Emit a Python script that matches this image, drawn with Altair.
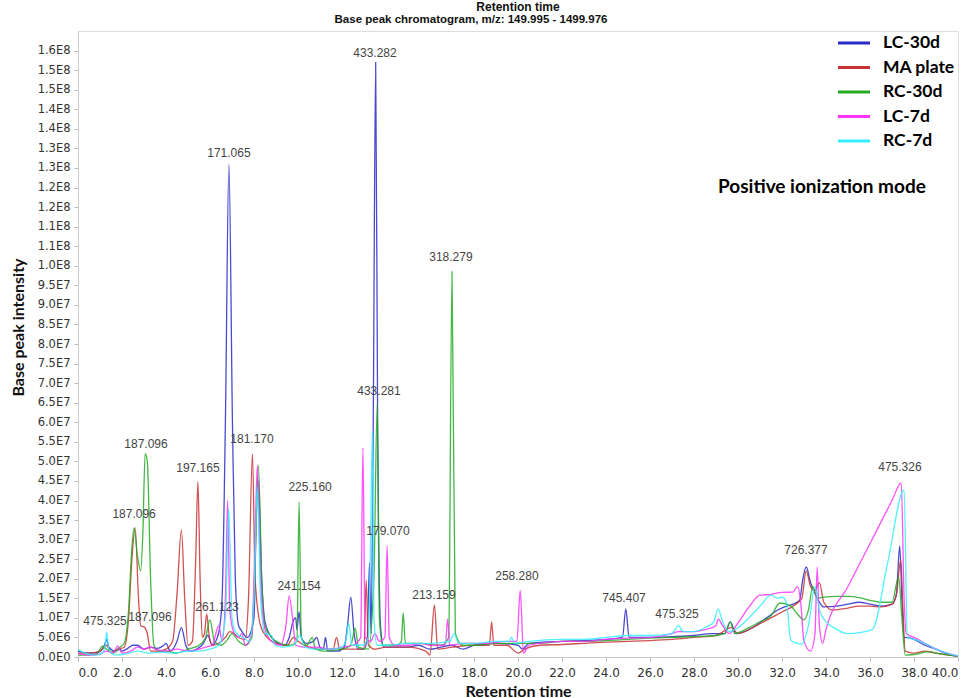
import altair as alt
import pandas as pd

# ---- series names and colours ----
series_names = ["LC-30d", "MA plate", "RC-30d", "LC-7d", "RC-7d"]
series_colors = ["#2a2ac8", "#c83232", "#22aa22", "#ff33ff", "#33eeff"]

# ---- base peak chromatograms: retention time (min) and intensity (x1e7) ----
lc30_t = [0.0, 0.2, 0.5, 0.9, 1.2, 1.3, 1.4, 1.7, 1.9, 2.0, 2.2, 2.5, 2.7, 3.0, 3.3, 3.6, 3.9, 4.0, 4.2,
          4.5, 4.7, 4.9, 5.1, 5.4, 5.7, 5.9, 6.1, 6.3, 6.45, 6.55, 6.7, 6.86, 7.02, 7.15, 7.3, 7.4, 7.7,
          8.0, 8.1, 8.2, 8.35, 8.5, 8.8, 9.1, 9.4, 9.6, 9.8, 9.9, 9.95, 10.05, 10.15, 10.4, 10.7, 10.85,
          11.0, 11.15, 11.25, 11.35, 11.8, 12.1, 12.25, 12.4, 12.55, 12.75, 13.0, 13.15, 13.25, 13.32,
          13.42, 13.53, 13.62, 13.75, 13.9, 14.5, 15.0, 15.5, 16.0, 16.5, 17.0, 17.5, 18.0, 19.0, 20.0,
          20.2, 20.5, 22.0, 23.0, 24.0, 24.75, 24.9, 25.05, 26.0, 27.0, 28.0, 28.8, 29.4, 29.65, 29.9,
          30.3, 30.8, 31.3, 31.8, 32.2, 32.5, 32.8, 32.95, 33.1, 33.3, 33.6, 33.9, 34.5, 35.0, 35.5, 36.0,
          36.5, 37.0, 37.2, 37.35, 37.45, 37.55, 37.8, 38.5, 39.0, 39.5, 40.0]
lc30_v = [0.15, 0.12, 0.1, 0.12, 0.3, 0.45, 0.25, 0.15, 0.2, 0.15, 0.2, 0.3, 0.3, 0.2, 0.25, 0.22, 0.3, 0.35, 0.15,
          0.4, 0.75, 0.3, 0.15, 0.2, 0.35, 0.55, 0.3, 0.45, 0.8, 1.5, 6.0, 12.6, 6.0, 2.0, 0.8, 0.7, 0.5,
          1.0, 3.5, 4.5, 2.0, 0.9, 0.5, 0.35, 0.3, 0.5, 0.95, 1.0, 0.7, 1.15, 0.5, 0.35, 0.4, 0.5,
          0.25, 0.2, 0.5, 0.15, 0.15, 0.25, 0.8, 1.53, 0.6, 0.2, 0.2, 0.5, 2.4, 0.6,
          6.0, 15.2, 6.0, 0.8, 0.25, 0.25, 0.25, 0.3, 0.2, 0.25, 0.3, 0.2, 0.3, 0.35, 0.3,
          0.2, 0.35, 0.4, 0.42, 0.45, 0.5, 1.23, 0.5, 0.5, 0.52, 0.55, 0.6, 0.6, 0.9, 0.6,
          0.65, 0.8, 1.0, 1.2, 1.3, 1.35, 1.45, 2.0, 2.3, 1.9, 1.5, 1.28, 1.3, 1.35, 1.4, 1.35,
          1.3, 1.35, 1.6, 2.84, 1.5, 0.5, 0.49, 0.3, 0.2, 0.08, 0.02]

ma_t = [0.0, 0.5, 1.0, 1.3, 1.5, 1.8, 2.1, 2.3, 2.45, 2.6, 2.75, 2.85, 3.0, 3.15, 3.3, 3.6, 4.0, 4.3, 4.5,
        4.7, 4.85, 5.0, 5.2, 5.35, 5.45, 5.55, 5.65, 5.75, 5.85, 5.95, 6.1, 6.4, 6.7, 6.9, 7.1, 7.3, 7.6,
        7.75, 7.93, 8.05, 8.3, 8.6, 9.0, 9.5, 9.8, 10.0, 10.5, 11.0, 11.6, 11.75, 11.9, 12.5, 13.0,
        13.1, 13.2, 13.5, 14.0, 15.0, 15.8, 16.0, 16.2, 16.35, 17.0, 18.0, 18.7, 18.8, 18.9, 19.5,
        20.0, 20.3, 21.0, 22.0, 23.0, 24.0, 25.0, 26.0, 27.0, 28.0, 29.0, 29.7, 30.0, 30.5, 31.0,
        31.5, 32.0, 32.5, 32.9, 33.1, 33.3, 33.5, 33.7, 33.9, 34.3, 35.0, 35.5, 36.0, 36.5, 37.0,
        37.2, 37.4, 37.5, 37.6, 38.0, 38.5, 39.0, 40.0]
ma_v = [0.1, 0.1, 0.15, 0.3, 0.12, 0.2, 0.25, 1.0, 2.5, 3.3, 1.5, 0.8, 0.77, 0.6, 0.15, 0.15, 0.2, 0.4, 1.6,
        3.25, 1.5, 0.3, 0.4, 2.5, 4.48, 2.0, 0.5, 0.6, 1.1, 0.6, 0.3, 0.35, 0.5, 0.65, 0.6, 0.5, 0.45,
        1.5, 5.2, 2.0, 0.8, 0.5, 0.35, 0.3, 0.5, 0.4, 0.25, 0.2, 0.2, 0.5, 0.2, 0.2, 0.2,
        1.97, 0.3, 0.2, 0.25, 0.25, 0.15, 0.05, 1.33, 0.2, 0.25, 0.3, 0.3, 0.9, 0.3, 0.3,
        0.1, 0.2, 0.3, 0.32, 0.35, 0.38, 0.4, 0.42, 0.45, 0.5, 0.55, 0.75, 0.6, 0.7, 0.85,
        1.0, 1.15, 1.3, 1.5, 2.2, 1.8, 1.7, 1.9, 1.4, 1.2, 1.25, 1.3, 1.3, 1.28, 1.35,
        1.6, 2.48, 1.2, 0.15, 0.1, 0.15, 0.1, 0.02]

rc30_t = [0.0, 0.5, 0.9, 1.1, 1.3, 1.6, 1.9, 2.1, 2.3, 2.45, 2.55, 2.7, 2.85, 2.95, 3.05, 3.15, 3.3, 3.45,
          3.7, 4.0, 4.5, 5.0, 5.5, 5.8, 6.0, 6.2, 6.5, 6.8, 7.0, 7.3, 7.6, 7.9, 8.05, 8.2, 8.35, 8.5,
          8.8, 9.2, 9.6, 9.95, 10.05, 10.15, 10.4, 10.65, 10.8, 11.2, 12.0, 12.4, 12.6, 12.75, 13.2,
          13.45, 13.6, 13.7, 13.85, 14.5, 14.7, 14.78, 14.88, 15.5, 16.5, 16.85, 17.0, 17.15, 17.5,
          18.0, 19.0, 20.0, 21.0, 22.0, 23.0, 24.0, 25.0, 26.0, 27.0, 28.0, 29.0, 29.4, 29.65, 29.85,
          30.5, 31.0, 31.5, 31.9, 32.4, 32.7, 33.0, 33.2, 33.4, 33.6, 33.9, 34.5, 35.0, 35.5, 36.0,
          36.5, 37.0, 37.3, 37.45, 37.6, 38.2, 38.6, 39.2, 40.0]
rc30_v = [0.05, 0.05, 0.1, 0.28, 0.2, 0.1, 0.25, 0.35, 1.2, 2.8, 3.3, 2.6, 2.2, 3.2, 5.2, 5.0, 2.0, 0.3,
          0.15, 0.15, 0.1, 0.2, 0.3, 0.5, 0.95, 0.4, 0.3, 0.45, 0.6, 0.4, 0.3, 0.5, 2.5, 4.9, 2.0, 0.8,
          0.5, 0.35, 0.3, 0.4, 3.96, 0.5, 0.3, 0.5, 0.2, 0.15, 0.2, 0.3, 0.74, 0.25, 0.2,
          2.0, 6.45, 1.0, 0.3, 0.3, 0.4, 1.13, 0.35, 0.35, 0.3, 0.5, 9.85, 0.6, 0.3,
          0.3, 0.35, 0.35, 0.35, 0.4, 0.4, 0.42, 0.45, 0.48, 0.5, 0.52, 0.55, 0.6, 0.9, 0.6,
          0.75, 0.9, 1.05, 1.38, 1.3, 1.1, 0.95, 1.2, 1.8, 1.5, 1.53, 1.55, 1.55, 1.52, 1.45,
          1.4, 1.4, 2.05, 1.0, 0.05, 0.08, 0.13, 0.08, 0.02]

lc7_t = [0.0, 0.5, 1.0, 1.3, 1.6, 1.8, 2.0, 2.4, 2.7, 3.0, 3.3, 3.6, 4.0, 4.5, 5.0, 5.5, 5.8, 6.1, 6.4,
         6.55, 6.7, 6.8, 6.9, 7.1, 7.3, 7.45, 7.6, 7.9, 8.05, 8.15, 8.3, 8.5, 8.8, 9.2, 9.45, 9.6, 9.75,
         9.9, 10.3, 10.8, 11.5, 12.0, 12.5, 12.85, 12.95, 13.05, 13.3, 13.5, 13.7, 13.95, 14.05, 14.15,
         14.4, 15.0, 15.6, 16.0, 16.7, 16.8, 16.9, 17.5, 18.5, 19.5, 19.95, 20.1, 20.25, 20.5, 21.0,
         22.0, 23.0, 24.0, 25.0, 26.0, 27.0, 27.3, 28.0, 28.5, 29.0, 29.1, 29.3, 29.6, 30.0, 30.5,
         31.0, 31.5, 32.0, 32.5, 32.7, 32.85, 33.0, 33.3, 33.5, 33.6, 33.7, 33.85, 34.0, 35.0, 36.0,
         37.0, 37.42, 37.55, 37.65, 38.0, 38.5, 39.0, 39.5, 40.0]
lc7_v = [0.08, 0.05, 0.08, 0.15, 0.1, 0.28, 0.1, 0.15, 0.25, 0.2, 0.25, 0.18, 0.15, 0.2, 0.15, 0.2, 0.25, 0.3, 0.8,
         0.4, 1.5, 4.0, 1.2, 0.6, 0.5, 0.6, 0.3, 0.6, 3.0, 4.9, 2.0, 0.7, 0.4, 0.3, 0.8, 1.56, 1.0,
         0.3, 0.25, 0.25, 0.2, 0.25, 0.3, 0.5, 5.35, 0.5, 0.4, 0.6, 0.4, 0.5, 2.84, 0.5,
         0.3, 0.3, 0.35, 0.3, 0.3, 0.97, 0.3, 0.35, 0.35, 0.4, 0.4, 1.71, 0.1, 0.3, 0.35,
         0.4, 0.4, 0.45, 0.48, 0.5, 0.6, 0.65, 0.65, 0.7, 0.8, 0.97, 0.8, 0.6, 0.87, 1.28,
         1.58, 1.6, 1.65, 1.66, 1.8, 1.4, 0.4, 0.15, 0.6, 2.3, 0.8, 0.35, 0.7, 1.8, 2.9,
         4.0, 4.45, 1.5, 0.6, 0.5, 0.35, 0.2, 0.1, 0.03]

rc7_t = [0.0, 0.3, 0.8, 1.1, 1.25, 1.3, 1.4, 1.7, 2.2, 2.7, 3.2, 3.8, 4.3, 5.0, 5.5, 6.0, 6.4, 6.7, 6.85,
         7.0, 7.2, 7.5, 7.8, 8.0, 8.15, 8.3, 8.5, 8.8, 8.95, 9.3, 9.8, 10.1, 10.3, 10.8, 11.5, 12.0,
         12.2, 12.3, 12.45, 12.9, 13.2, 13.3, 13.38, 13.45, 13.6, 14.0, 15.0, 16.0, 16.9, 17.1, 17.3,
         18.0, 19.0, 19.6, 19.7, 19.85, 20.5, 22.0, 23.0, 24.0, 25.0, 26.0, 27.0, 27.3, 27.5, 28.0,
         28.5, 28.9, 29.1, 29.3, 29.6, 30.0, 30.5, 31.0, 31.5, 31.8, 32.0, 32.2, 32.4, 32.9, 33.2,
         33.5, 33.7, 34.0, 34.3, 35.0, 36.1, 36.8, 37.55, 37.7, 38.0, 38.5, 39.0, 39.5, 40.0]
rc7_v = [0.2, 0.1, 0.05, 0.1, 0.35, 0.64, 0.2, 0.05, 0.08, 0.15, 0.1, 0.12, 0.1, 0.15, 0.15, 0.2, 0.3, 1.0, 3.8,
         1.0, 0.6, 0.5, 0.4, 1.5, 4.35, 1.5, 0.6, 0.55, 0.3, 0.25, 0.3, 0.56, 0.25, 0.2, 0.2, 0.25,
         0.5, 0.87, 0.3, 0.3, 0.5, 3.0, 5.75, 1.0, 0.3, 0.3, 0.35, 0.35, 0.4, 0.6, 0.35,
         0.35, 0.4, 0.4, 0.5, 0.35, 0.4, 0.45, 0.45, 0.5, 0.55, 0.55, 0.6, 0.8, 0.65, 0.65,
         0.75, 0.9, 1.23, 0.9, 0.65, 0.75, 1.0, 1.3, 1.58, 1.5, 1.53, 1.4, 0.43, 0.33, 0.8,
         1.8, 1.2, 0.9, 0.77, 0.6, 0.7, 2.4, 4.27, 0.5, 0.45, 0.35, 0.2, 0.1, 0.03]

# ---- annotated peaks: m/z label, retention time, label height (x1e7) ----
peak_mz = ["475.325", "187.096", "187.096", "187.096", "197.165", "261.123", "171.065", "181.170",
           "225.160", "241.154", "433.282", "433.281", "318.279", "179.070", "213.159", "258.280",
           "745.407", "475.325", "726.377", "475.326"]
peak_t = [1.23, 3.09, 2.55, 3.27, 5.45, 6.32, 6.86, 7.91, 10.55, 10.05, 13.5, 13.68, 16.95, 14.09,
          16.18, 19.95, 24.82, 27.23, 33.09, 37.36]
peak_v = [0.92, 5.45, 3.66, 1.02, 4.83, 1.28, 12.89, 5.58, 4.35, 1.82, 15.45, 6.8, 10.23, 3.22,
          1.58, 2.07, 1.51, 1.1, 2.74, 4.86]

UNIT = 1e7
frames = []
for name, ts, vs in [("LC-30d", lc30_t, lc30_v), ("MA plate", ma_t, ma_v), ("RC-30d", rc30_t, rc30_v),
                     ("LC-7d", lc7_t, lc7_v), ("RC-7d", rc7_t, rc7_v)]:
    frames.append(pd.DataFrame({"series": name, "t": ts, "v": [x * UNIT for x in vs]}))
traces = pd.concat(frames, ignore_index=True)
peaks = pd.DataFrame({"mz": peak_mz, "t": peak_t, "v": [x * UNIT for x in peak_v]})

W, H = 880, 626
x_scale = alt.Scale(domain=[0, 40], nice=False, zero=False)
y_scale = alt.Scale(domain=[0, 1.6e8], nice=False)
y_ticks = [i * 5e6 for i in range(32)]

lines = alt.Chart(traces).mark_line(strokeWidth=1.3, opacity=0.85, clip=True,
                                    interpolate="monotone").encode(
    x=alt.X("t:Q", scale=x_scale,
            axis=alt.Axis(values=list(range(0, 41, 2)), tickCount=40, format=".1f",
                          title="Retention time", grid=False, labelFont="DejaVu Sans",
                          labelFontSize=12, labelColor="#333", tickColor="#bbb", domainColor="#ccc",
                          tickSize=4, labelPadding=6, labelOverlap=False,
                          titleFont="Lato", titleFontSize=16, titleFontWeight="bold",
                          titleColor="#111", titleY=26)),
    y=alt.Y("v:Q", scale=y_scale,
            axis=alt.Axis(values=y_ticks, tickCount=60,
                          labelExpr="replace(format(datum.value, '.1e'), 'e+', 'E')",
                          title="Base peak intensity", grid=False, labelFont="DejaVu Sans",
                          labelFontSize=11.5, labelColor="#333", tickColor="#bbb",
                          domainColor="#ccc", tickSize=4, labelPadding=4, labelOverlap=False,
                          titleFont="Lato", titleFontSize=16, titleFontWeight="bold",
                          titleColor="#111", titleX=-52, titleY=296)),
    color=alt.Color("series:N", scale=alt.Scale(domain=series_names, range=series_colors), legend=None),
    order=alt.Order("t:Q"),
)

labels = alt.Chart(peaks).mark_text(font="Liberation Sans", fontSize=12, color="#444",
                                    baseline="middle", align="center").encode(
    x=alt.X("t:Q", scale=x_scale), y=alt.Y("v:Q", scale=y_scale), text="mz:N")

one = pd.DataFrame({"k": [0]})
title_top = alt.Chart(one).mark_text(text="Retention time", font="Liberation Sans", fontSize=12,
                                     fontWeight="bold", color="#111", align="center",
                                     baseline="middle").encode(x=alt.value(440), y=alt.value(-24))
subtitle = alt.Chart(one).mark_text(text="Base peak chromatogram, m/z: 149.995 - 1499.976",
                                    font="Liberation Sans", fontSize=11.5, fontWeight="bold",
                                    color="#111", align="center", baseline="middle").encode(
    x=alt.value(393), y=alt.value(-11))
mode_note = alt.Chart(one).mark_text(text="Positive ionization mode", font="Lato", fontSize=19,
                                     fontWeight="bold", color="#000", align="left",
                                     baseline="middle").encode(x=alt.value(640), y=alt.value(156))

# hand-built legend: short coloured stroke plus bold name for each series
legend_layers = []
for i, (name, col) in enumerate(zip(series_names, series_colors)):
    ypos = 12 + 24.5 * i
    legend_layers.append(alt.Chart(one).mark_rule(color=col, strokeWidth=3).encode(
        x=alt.value(760), x2=alt.value(792), y=alt.value(ypos)))
    legend_layers.append(alt.Chart(one).mark_text(text=name, font="Lato", fontSize=17.5,
                                                  fontWeight="bold", color="#000", align="left",
                                                  baseline="middle").encode(
        x=alt.value(805), y=alt.value(ypos)))

chart = alt.layer(lines, labels, title_top, subtitle, mode_note, *legend_layers).properties(
    width=W, height=H,
    padding={"left": 78, "top": 31, "right": 16, "bottom": 41},
    autosize=alt.AutoSizeParams(type="none"),
).configure_view(stroke=None).configure(background="white")

chart.save("out.html", embed_options={"renderer": "svg", "actions": False})
